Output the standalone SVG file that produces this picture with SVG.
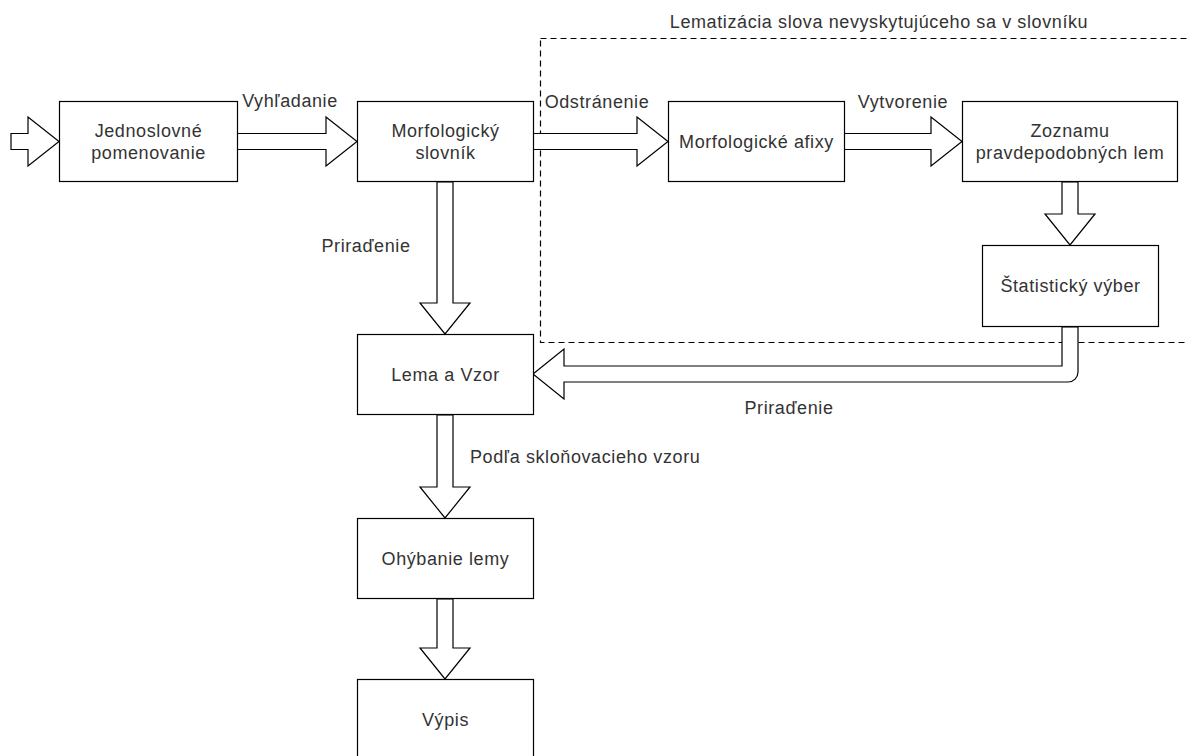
<svg xmlns="http://www.w3.org/2000/svg" width="1187" height="756" viewBox="0 0 1187 756">
<style>
.box{fill:#fff;stroke:#000;stroke-width:1.2}
.arr{fill:#fff;stroke:#000;stroke-width:1.2;stroke-linejoin:miter}
.t{font-family:"Liberation Sans",Arial,sans-serif;font-size:18px;letter-spacing:0.6px;fill:#333;text-anchor:middle}
.l{font-family:"Liberation Sans",Arial,sans-serif;font-size:18px;letter-spacing:0.6px;fill:#333}
</style>
<rect width="1187" height="756" fill="#fff"/>
<g id="group-lematizacia">
<rect x="540.5" y="38.5" width="700" height="304" fill="none" stroke="#000" stroke-width="1.2" stroke-dasharray="6 4"/>
<text class="t" x="879" y="28">Lematizácia slova nevyskytujúceho sa v slovníku</text>
</g>
<g id="connectors">
<path class="arr" d="M11,133.5 H28 V117 L59,141.5 L28,166 V149.5 H11 Z"/>
<path class="arr" d="M237,133.5 H326 V117 L357,141.5 L326,166 V149.5 H237 Z"/>
<path class="arr" d="M533,133.5 H637 V117 L668,141.5 L637,166 V149.5 H533 Z"/>
<path class="arr" d="M844,133.5 H931 V117 L962,141.5 L931,166 V149.5 H844 Z"/>
<path class="arr" d="M437,182 V303 H420 L445,334 L470,303 H453 V182 Z"/>
<path class="arr" d="M1062,182 V214 H1045 L1070,245 L1095,214 H1078 V182 Z"/>
<path class="arr" d="M1062,327 V366 H564 V349 L533,374 L564,399 V382 H1068 A10,10 0 0 0 1078,372 V327 Z"/>
<path class="arr" d="M437,415 V487 H420 L445,518 L470,487 H453 V415 Z"/>
<path class="arr" d="M437,599 V648 H420 L445,679 L470,648 H453 V599 Z"/>
<text class="t" x="290" y="107">Vyhľadanie</text>
<text class="t" x="597" y="108">Odstránenie</text>
<text class="t" x="903" y="108">Vytvorenie</text>
<text class="t" x="366" y="252">Priraďenie</text>
<text class="t" x="789" y="414">Priraďenie</text>
<text class="l" x="470" y="463">Podľa skloňovacieho vzoru</text>
</g>
<g id="node-jednoslovne">
<rect class="box" x="59.5" y="101.5" width="178" height="80"/>
<text class="t" x="148.5" y="137">Jednoslovné</text>
<text class="t" x="148.5" y="159">pomenovanie</text>
</g>
<g id="node-morfologicky-slovnik">
<rect class="box" x="357.5" y="101.5" width="176" height="80"/>
<text class="t" x="445.5" y="137">Morfologický</text>
<text class="t" x="445.5" y="159">slovník</text>
</g>
<g id="node-afixy">
<rect class="box" x="668.5" y="101.5" width="176" height="80"/>
<text class="t" x="756.5" y="148">Morfologické afixy</text>
</g>
<g id="node-zoznamu">
<rect class="box" x="962.5" y="101.5" width="215" height="80"/>
<text class="t" x="1070" y="137">Zoznamu</text>
<text class="t" x="1070" y="159">pravdepodobných lem</text>
</g>
<g id="node-statisticky">
<rect class="box" x="982.5" y="245.5" width="176" height="81"/>
<text class="t" x="1070.5" y="292">Štatistický výber</text>
</g>
<g id="node-lema">
<rect class="box" x="357.5" y="334.5" width="176" height="80"/>
<text class="t" x="445.5" y="381">Lema a Vzor</text>
</g>
<g id="node-ohybanie">
<rect class="box" x="357.5" y="518.5" width="176" height="80"/>
<text class="t" x="445.5" y="565">Ohýbanie lemy</text>
</g>
<g id="node-vypis">
<rect class="box" x="357.5" y="679.5" width="176" height="82"/>
<text class="t" x="445.5" y="726">Výpis</text>
</g>
</svg>
